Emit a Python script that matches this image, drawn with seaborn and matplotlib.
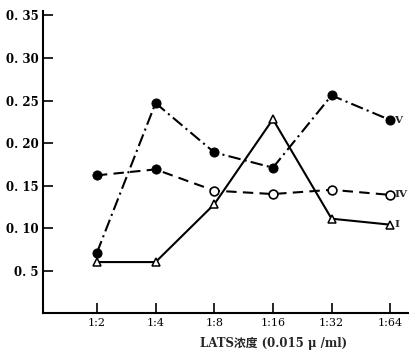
import matplotlib
matplotlib.use("Agg")
from matplotlib import pyplot as plt
import seaborn as sns
import pandas as pd

# data
dilutions = ["1:2", "1:4", "1:8", "1:16", "1:32", "1:64"]
series_v = [0.071, 0.247, 0.189, 0.171, 0.256, 0.227]
series_iv = [0.162, 0.169, 0.144, 0.140, 0.145, 0.139]
iv_filled = [True, True, False, False, False, False]
series_i = [0.060, 0.060, 0.128, 0.228, 0.111, 0.104]
yticks = [0.05, 0.10, 0.15, 0.20, 0.25, 0.30, 0.35]
ytick_labels = ["0. 5", "0. 10", "0. 15", "0. 20", "0. 25", "0. 30", "0. 35"]
series_names = ["V", "IV", "I"]

sns.set_style("white")
plt.rcParams['font.family'] = ['DejaVu Serif', 'Noto Sans CJK SC']

df = pd.DataFrame({"x": range(len(dilutions)), "V": series_v, "IV": series_iv,
                   "I": series_i, "filled": iv_filled})

fig = plt.figure(figsize=(4.09, 3.51), dpi=100)
ax = fig.add_axes([0.105, 0.108, 0.895, 0.860])

# V : dash-dot, filled circles
sns.lineplot(data=df, x="x", y="V", ax=ax, color="black", lw=1.5,
             linestyle=(0, (6, 2, 1, 2)), marker="o", markersize=6.5,
             markerfacecolor="black", markeredgecolor="black")
# IV : dashed, first two filled then open circles
sns.lineplot(data=df, x="x", y="IV", ax=ax, color="black", lw=1.5,
             linestyle=(0, (5, 3)))
sns.scatterplot(data=df[df.filled], x="x", y="IV", ax=ax, color="black",
                s=45, edgecolor="black", zorder=3)
sns.scatterplot(data=df[~df.filled], x="x", y="IV", ax=ax, color="white",
                s=40, edgecolor="black", linewidth=1.2, zorder=3)
# I : solid, open triangles
sns.lineplot(data=df, x="x", y="I", ax=ax, color="black", lw=1.5,
             marker="^", markersize=5.5, markerfacecolor="white",
             markeredgecolor="black", markeredgewidth=1.1)

for name, vals in zip(series_names, [series_v, series_iv, series_i]):
    ax.text(len(dilutions) - 1 + 0.07, vals[-1], name, fontsize=7.5,
            fontweight="bold", va="center", ha="left")

ax.set_xlim(-0.92, 5.32)
ax.set_ylim(0, 0.355)
ax.set_xticks(range(len(dilutions)))
ax.set_xticklabels(dilutions, fontsize=8)
ax.set_yticks(yticks)
ax.set_yticklabels(ytick_labels, fontsize=8.5, fontweight="bold")
ax.tick_params(axis="both", direction="in", length=7, width=1.2,
               colors="black", left=True, bottom=True)
ax.tick_params(axis="y", pad=3)
ax.set_xlabel("LATS浓度 (0.015 μ /ml)", fontsize=8.5, fontweight="bold")
ax.xaxis.set_label_coords(0.63, -0.08)
ax.set_ylabel("")
for s in ["top", "right"]:
    ax.spines[s].set_visible(False)
for s in ["left", "bottom"]:
    ax.spines[s].set_color("black")
    ax.spines[s].set_linewidth(1.5)

plt.savefig("out.png", dpi=100)
